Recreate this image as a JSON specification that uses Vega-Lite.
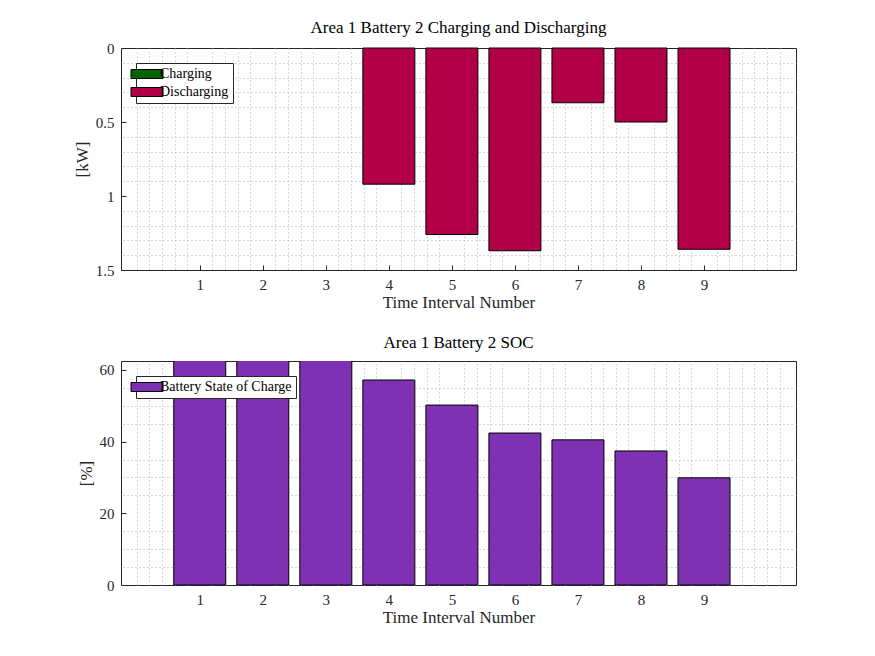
{
  "$schema": "https://vega.github.io/schema/vega-lite/v6.json",
  "background": "white",
  "padding": {"left": 72, "top": 18, "right": 10, "bottom": 5},
  "config": {
    "font": "Liberation Serif",
    "view": {"stroke": "#262626", "strokeWidth": 1},
    "title": {"font": "Liberation Serif", "fontSize": 17, "fontWeight": "normal", "color": "#000", "offset": 4},
    "axis": {"labelFont": "Liberation Serif", "titleFont": "Liberation Serif", "labelFontSize": 15, "titleFontSize": 17, "titleFontWeight": "normal", "labelColor": "#262626", "titleColor": "#262626", "domain": false, "tickColor": "#262626", "tickSize": -5, "labelPadding": 12, "gridColor": "#d8d8d8"},
    "legend": {"labelFont": "Liberation Serif", "labelFontSize": 14, "labelColor": "#000", "fillColor": "white", "strokeColor": "#262626", "padding": 4, "symbolType": "M-3.2,-0.9H3.2V0.9H-3.2Z", "symbolSize": 100, "symbolStrokeColor": "#000", "symbolStrokeWidth": 1, "symbolOpacity": 1, "rowPadding": 4, "labelOffset": 6, "offset": 15, "title": null}
  },
  "datasets": {
    "power": [
      {"t": 4, "kw": 0.92, "s": "Discharging"},
      {"t": 5, "kw": 1.26, "s": "Discharging"},
      {"t": 6, "kw": 1.37, "s": "Discharging"},
      {"t": 7, "kw": 0.37, "s": "Discharging"},
      {"t": 8, "kw": 0.5, "s": "Discharging"},
      {"t": 9, "kw": 1.36, "s": "Discharging"}
    ],
    "soc": [
      {"t": 1, "p": 64, "s": "Battery State of Charge"},
      {"t": 2, "p": 64, "s": "Battery State of Charge"},
      {"t": 3, "p": 64, "s": "Battery State of Charge"},
      {"t": 4, "p": 57.2, "s": "Battery State of Charge"},
      {"t": 5, "p": 50.2, "s": "Battery State of Charge"},
      {"t": 6, "p": 42.4, "s": "Battery State of Charge"},
      {"t": 7, "p": 40.5, "s": "Battery State of Charge"},
      {"t": 8, "p": 37.4, "s": "Battery State of Charge"},
      {"t": 9, "p": 29.9, "s": "Battery State of Charge"}
    ]
  },
  "vconcat": [
    {
      "title": "Area 1 Battery 2 Charging and Discharging",
      "width": 675,
      "height": 222,
      "data": {"name": "power"},
      "layer": [
        {
          "mark": {"type": "rule", "opacity": 0},
          "encoding": {
            "x": {"field": "t", "type": "quantitative", "scale": {"domain": [-0.17, 10.38], "nice": false, "zero": false}, "axis": {"orient": "top", "values": [0, 0.2, 0.4, 0.6, 0.8, 1.2, 1.4, 1.6, 1.8, 2.2, 2.4, 2.6, 2.8, 3.2, 3.4, 3.6, 3.8, 4.2, 4.4, 4.6, 4.8, 5.2, 5.4, 5.6, 5.8, 6.2, 6.4, 6.6, 6.8, 7.2, 7.4, 7.6, 7.8, 8.2, 8.4, 8.6, 8.8, 9.2, 9.4, 9.6, 9.8, 10, 10.2], "labels": false, "ticks": false, "title": null, "gridDash": [1, 3], "gridColor": "#b0b0b0"}},
            "y": {"field": "kw", "type": "quantitative", "scale": {"domain": [0, 1.5], "reverse": true, "nice": false}, "axis": {"orient": "right", "values": [0.1, 0.2, 0.3, 0.4, 0.6, 0.7, 0.8, 0.9, 1.1, 1.2, 1.3, 1.4], "labels": false, "ticks": false, "title": null, "gridDash": [1, 3], "gridColor": "#b0b0b0"}}
          }
        },
        {
          "mark": {"type": "bar", "size": 52, "stroke": "#000", "strokeWidth": 1},
          "encoding": {
            "x": {"field": "t", "type": "quantitative", "scale": {"domain": [-0.17, 10.38], "nice": false, "zero": false}, "axis": {"values": [1, 2, 3, 4, 5, 6, 7, 8, 9], "title": "Time Interval Number", "labelAngle": 0, "titlePadding": 2}},
            "y": {"field": "kw", "type": "quantitative", "scale": {"domain": [0, 1.5], "reverse": true, "nice": false}, "axis": {"values": [0, 0.5, 1, 1.5], "title": "[kW]", "labelExpr": "datum.value"}},
            "color": {"field": "s", "type": "nominal", "scale": {"domain": ["Charging", "Discharging"], "range": ["#006400", "#b20048"]}, "legend": {"orient": "top-left"}}
          }
        }
      ],
      "resolve": {"axis": {"x": "independent", "y": "independent"}}
    },
    {
      "title": "Area 1 Battery 2 SOC",
      "width": 675,
      "height": 224,
      "data": {"name": "soc"},
      "layer": [
        {
          "mark": {"type": "rule", "opacity": 0},
          "encoding": {
            "x": {"field": "t", "type": "quantitative", "scale": {"domain": [-0.17, 10.38], "nice": false, "zero": false}, "axis": {"orient": "top", "values": [0, 0.2, 0.4, 0.6, 0.8, 1.2, 1.4, 1.6, 1.8, 2.2, 2.4, 2.6, 2.8, 3.2, 3.4, 3.6, 3.8, 4.2, 4.4, 4.6, 4.8, 5.2, 5.4, 5.6, 5.8, 6.2, 6.4, 6.6, 6.8, 7.2, 7.4, 7.6, 7.8, 8.2, 8.4, 8.6, 8.8, 9.2, 9.4, 9.6, 9.8, 10, 10.2], "labels": false, "ticks": false, "title": null, "gridDash": [1, 3], "gridColor": "#b0b0b0"}},
            "y": {"field": "p", "type": "quantitative", "scale": {"domain": [0, 62.5], "nice": false}, "axis": {"orient": "right", "values": [5, 10, 15, 25, 30, 35, 45, 50, 55], "labels": false, "ticks": false, "title": null, "gridDash": [1, 3], "gridColor": "#b0b0b0"}}
          }
        },
        {
          "mark": {"type": "bar", "size": 52, "stroke": "#000", "strokeWidth": 1, "clip": true},
          "encoding": {
            "x": {"field": "t", "type": "quantitative", "scale": {"domain": [-0.17, 10.38], "nice": false, "zero": false}, "axis": {"values": [1, 2, 3, 4, 5, 6, 7, 8, 9], "title": "Time Interval Number", "labelAngle": 0, "titlePadding": 2}},
            "y": {"field": "p", "type": "quantitative", "scale": {"domain": [0, 62.5], "nice": false}, "axis": {"values": [0, 20, 40, 60], "title": "[%]"}},
            "color": {"field": "s", "type": "nominal", "scale": {"range": ["#7f31b3"]}, "legend": {"orient": "top-left"}}
          }
        }
      ],
      "resolve": {"axis": {"x": "independent", "y": "independent"}}
    }
  ],
  "resolve": {"scale": {"color": "independent"}, "legend": {"color": "independent"}},
  "spacing": 22
}
